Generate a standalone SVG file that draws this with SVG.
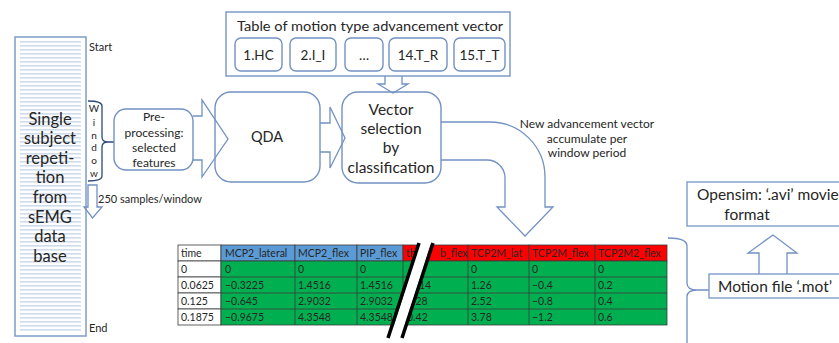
<svg xmlns="http://www.w3.org/2000/svg" width="839" height="343" viewBox="0 0 839 343">
  <style>
    text { font-family: Lato, "Open Sans", "Liberation Sans", sans-serif; fill: #262626; }
    .box { fill: #ffffff; stroke: #7291c4; stroke-width: 1.4; }
    .arrow { fill: none; stroke: #7291c4; stroke-width: 1.3; stroke-linejoin: miter; }
    .brace { fill: none; stroke: #2f4a7a; stroke-width: 1.3; }
    .lbl { font-size: 11px; }
    .c { text-anchor: middle; }
    .cell { stroke: #3a3a3a; stroke-width: 0.8; }
    .t { font-size: 10.5px; }
  </style>
  <defs>
    <pattern id="stripes" x="0" y="40" width="8" height="4" patternUnits="userSpaceOnUse">
      <rect x="0" y="0" width="8" height="4" fill="#ffffff"/>
      <rect x="0" y="1" width="8" height="1.6" fill="#d0dbeb"/>
    </pattern>
  </defs>
  <rect width="839" height="343" fill="#ffffff"/>

  <!-- signal column -->
  <g id="signal-column">
    <rect x="15" y="37" width="71" height="299" fill="#ffffff" stroke="#7f9cc9" stroke-width="1.5"/>
    <rect x="20" y="40" width="61" height="293" fill="url(#stripes)"/>
    <g font-size="16.5">
      <text x="50" y="125" class="c">Single</text>
      <text x="50" y="144" class="c">subject</text>
      <text x="50" y="164" class="c">repeti-</text>
      <text x="50" y="183" class="c">tion</text>
      <text x="50" y="203" class="c">from</text>
      <text x="50" y="223" class="c">sEMG</text>
      <text x="50" y="242" class="c">data</text>
      <text x="50" y="262" class="c">base</text>
    </g>
    <text x="89" y="51" class="lbl">Start</text>
    <text x="89" y="332" class="lbl">End</text>
  </g>

  <!-- window bracket -->
  <g id="window">
    <path class="brace" d="M88,101 Q102,101 102,106 L102,137 Q102,142 108,142 L115,142 M108,142 Q102,142 102,147 L102,176 Q102,181 88,181"/>
    <g font-size="10">
      <text x="94" y="112" class="c">W</text>
      <text x="94" y="126" class="c">i</text>
      <text x="94" y="139" class="c">n</text>
      <text x="94" y="151" class="c">d</text>
      <text x="94" y="164" class="c">o</text>
      <text x="94" y="177" class="c">w</text>
    </g>
  </g>

  <!-- window step -->
  <g id="window-step">
    <path class="arrow" d="M88,185 L97,185 L97,207 L102,207 L92.5,218 L84,207 L88,207 Z"/>
    <text x="98" y="203" class="lbl">250 samples/window</text>
  </g>

  <!-- preprocessing -->
  <g id="preprocessing">
    <rect class="box" x="114" y="109" width="79" height="61" rx="12"/>
    <g font-size="12">
      <text x="154" y="121" class="c">Pre-</text>
      <text x="154" y="137" class="c">processing:</text>
      <text x="154" y="152" class="c">selected</text>
      <text x="154" y="167" class="c">features</text>
    </g>
  </g>

  <!-- QDA -->
  <g id="qda">
    <rect class="box" x="215" y="92" width="105" height="90" rx="16"/>
    <text x="267" y="142" font-size="14.5" class="c">QDA</text>
  </g>

  <!-- vector selection -->
  <g id="vector-selection">
    <rect class="box" x="342" y="92" width="99" height="91" rx="16"/>
    <g font-size="15.5">
      <text x="391" y="115" class="c">Vector</text>
      <text x="391" y="134" class="c">selection</text>
      <text x="391" y="153" class="c">by</text>
      <text x="391" y="173" class="c">classification</text>
    </g>
  </g>

  <!-- motion type table -->
  <g id="motion-table">
    <rect x="226" y="12" width="284" height="64" fill="#ffffff" stroke="#7f9cc9" stroke-width="1.5"/>
    <text x="370" y="31" font-size="14" class="c" textLength="266" lengthAdjust="spacingAndGlyphs">Table of motion type advancement  vector</text>
    <g font-size="13.5">
      <rect class="box" x="235" y="38" width="47" height="33" rx="6"/>
      <text x="258.5" y="59.5" class="c">1.HC</text>
      <rect class="box" x="290" y="38" width="46" height="33" rx="6"/>
      <text x="313" y="59.5" class="c">2.I_I</text>
      <rect class="box" x="345" y="38" width="38" height="33" rx="6"/>
      <text x="364" y="59.5" class="c">…</text>
      <rect class="box" x="389" y="38" width="58" height="33" rx="6"/>
      <text x="418" y="59.5" class="c">14.T_R</text>
      <rect class="box" x="454" y="38" width="51" height="33" rx="6"/>
      <text x="479.5" y="59.5" class="c">15.T_T</text>
    </g>
  </g>

  <!-- result table -->
  <g id="mot-table">
    <g class="cell">
      <rect x="178" y="245" width="43" height="16" fill="#ffffff"/>
      <rect x="221" y="245" width="74" height="16" fill="#5b9bd5"/>
      <rect x="295" y="245" width="62" height="16" fill="#5b9bd5"/>
      <rect x="357" y="245" width="46" height="16" fill="#5b9bd5"/>
      <rect x="403" y="245" width="65" height="16" fill="#ff0000"/>
      <rect x="468" y="245" width="61" height="16" fill="#ff0000"/>
      <rect x="529" y="245" width="66" height="16" fill="#ff0000"/>
      <rect x="595" y="245" width="72" height="16" fill="#ff0000"/>
      <rect x="178" y="261" width="43" height="16" fill="#ffffff"/>
      <rect x="178" y="277" width="43" height="16" fill="#ffffff"/>
      <rect x="178" y="293" width="43" height="16" fill="#ffffff"/>
      <rect x="178" y="309" width="43" height="16" fill="#ffffff"/>
      <rect x="221" y="261" width="446" height="64" fill="#00b050"/>
      <path fill="none" d="M221,277 H667 M221,293 H667 M221,309 H667 M295,261 V325 M357,261 V325 M403,261 V325 M468,261 V325 M529,261 V325 M595,261 V325"/>
    </g>
    <g class="t">
      <text x="181" y="257">time</text>
      <text x="225" y="257">MCP2_lateral</text>
      <text x="298" y="257">MCP2_flex</text>
      <text x="360" y="257">PIP_flex</text>
      <text x="406" y="257">th</text>
      <text x="440" y="257">b_flex</text>
      <text x="471" y="257">TCP2M_lat</text>
      <text x="532" y="257">TCP2M_flex</text>
      <text x="598" y="257">TCP2M2_flex</text>

      <text x="181" y="273">0</text>
      <text x="225" y="273">0</text>
      <text x="298" y="273">0</text>
      <text x="360" y="273">0</text>
      <text x="471" y="273">0</text>
      <text x="532" y="273">0</text>
      <text x="598" y="273">0</text>

      <text x="181" y="289">0.0625</text>
      <text x="225" y="289">−0.3225</text>
      <text x="298" y="289">1.4516</text>
      <text x="360" y="289">1.4516</text>
      <text x="419" y="289">14</text>
      <text x="471" y="289">1.26</text>
      <text x="532" y="289">−0.4</text>
      <text x="598" y="289">0.2</text>

      <text x="181" y="305">0.125</text>
      <text x="225" y="305">−0.645</text>
      <text x="298" y="305">2.9032</text>
      <text x="360" y="305">2.9032</text>
      <text x="413" y="305">.28</text>
      <text x="471" y="305">2.52</text>
      <text x="532" y="305">−0.8</text>
      <text x="598" y="305">0.4</text>

      <text x="181" y="321">0.1875</text>
      <text x="225" y="321">−0.9675</text>
      <text x="298" y="321">4.3548</text>
      <text x="360" y="321">4.3548</text>
      <text x="407" y="321">0.42</text>
      <text x="471" y="321">3.78</text>
      <text x="532" y="321">−1.2</text>
      <text x="598" y="321">0.6</text>
    </g>
    <!-- break mark -->
    <polygon points="390,338 420,243 431,243 401,338" fill="#ffffff"/>
    <line x1="388" y1="338" x2="419" y2="243" stroke="#000000" stroke-width="3.5"/>
    <line x1="402" y1="338" x2="433" y2="243" stroke="#000000" stroke-width="3.5"/>
  </g>

  <!-- opensim -->
  <g id="opensim">
    <rect x="687" y="182" width="160" height="44" fill="#ffffff" stroke="#7f9cc9" stroke-width="1.4"/>
    <text x="697" y="200" font-size="15.5">Opensim: ‘.avi’ movie</text>
    <text x="747" y="220" font-size="15.5" class="c">format</text>
  </g>

  <!-- motion file -->
  <g id="motion-file">
    <rect x="709" y="274" width="140" height="24" fill="#ffffff" stroke="#7f9cc9" stroke-width="1.4"/>
    <text x="718" y="291.5" font-size="15.5">Motion file ‘.mot’</text>
  </g>

  <!-- connectors -->
  <g id="connectors">
    <path class="arrow" d="M193,116 L202,116 L202,100 L228,139 L202,177 L202,160 L193,160"/>
    <path class="arrow" d="M320,123 L330,123 L330,107 L345,138 L330,168 L330,152 L320,152"/>
    <path class="arrow" d="M385,76 L385,84 L378,84 L393,93 L408,84 L402,84 L402,76"/>
    <path class="arrow" d="M441,122 L490,122 A55,55 0 0 1 545,177 L545,207 L553,207 L525,236 L497,207 L505,207 L505,178 A18,18 0 0 0 487,160 L441,160"/>
    <path class="arrow" d="M759,274 L759,253 L748,253 L773,235 L797,253 L787,253 L787,274"/>
    <path class="arrow" d="M668,238 Q687,238 687,246 L687,283 Q687,290 697,290 L709,290 M697,290 Q687,290 687,297 L687,343"/>
    <g font-size="12">
      <text x="587" y="128" class="c">New advancement  vector</text>
      <text x="587" y="143" class="c">accumulate per</text>
      <text x="587" y="157" class="c">window period</text>
    </g>
  </g>
</svg>
